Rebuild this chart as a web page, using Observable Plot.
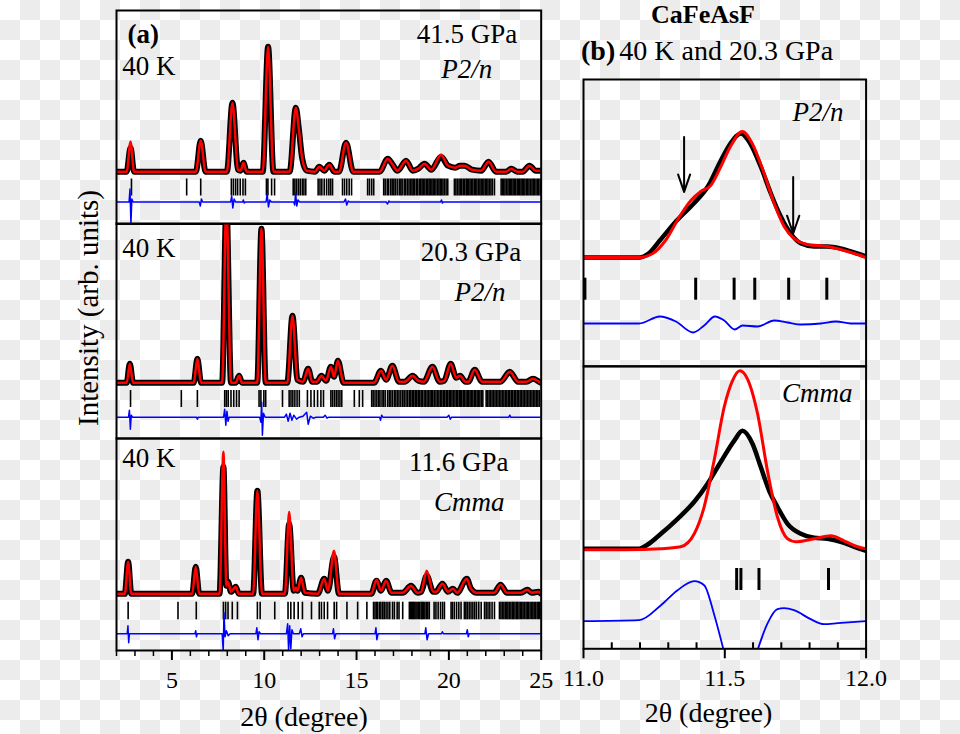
<!DOCTYPE html>
<html><head><meta charset="utf-8">
<script src="https://cdn.jsdelivr.net/npm/d3@7"></script>
<script src="https://cdn.jsdelivr.net/npm/@observablehq/plot@0.6"></script>
<style>
html,body{margin:0;padding:0;}
#root{position:relative;width:960px;height:734px;overflow:hidden;font-family:'Liberation Serif','Times New Roman',serif;color:#000;
background:conic-gradient(#ececec 0 25%,#fff 0 50%,#ececec 0 75%,#fff 0) 0 0/40px 40px;}
.lbl{position:absolute;white-space:nowrap;line-height:1;}
.p{position:absolute;}
</style></head><body><div id="root"></div>
<script>
const FONT = "'Liberation Serif','Times New Roman',serif";

// ---------- Panel (a): 2θ from 2 to 25 ----------
const aMajorTicks = [5, 10, 15, 20, 25];
const aMinorTicks = [2, 3, 4, 6, 7, 8, 9, 11, 12, 13, 14, 16, 17, 18, 19, 21, 22, 23, 24];

// 41.5 GPa, P2/n : observed profile [2θ, intensity]
const a1Obs = [[2.0,0],[2.55,0],[2.76,24],[2.95,0],[6.3,0],[6.56,31],[6.82,0],[7.98,0],[8.28,69],[8.58,2],[8.72,1],[8.87,9],[9.05,0],
  [9.92,0],[10.21,125],[10.5,0],[11.38,0],[11.71,64],[11.88,42],[12.05,14],[12.3,1],[12.75,0],[12.98,5],[13.25,1],[13.52,7],[13.8,0],
  [14.05,0],[14.43,29],[14.82,0],[16.25,0],[16.69,13],[16.92,8],[17.22,1],[17.68,11],[18.05,1],[18.35,3],[18.68,8],[19.05,2],[19.58,15],
  [19.95,6],[20.35,4],[20.6,6],[20.85,6],[21.25,2],[21.75,1],[22.15,10],[22.55,0],[23.1,0],[23.38,3],[23.7,0],[24.0,0],[24.37,6],[24.7,1],[25,1]];
const a1CalcPeaks = [[2.76,30],[19.58,17]];
const a1Diff = [[2,0],[2.68,0],[2.73,13],[2.78,-22],[2.83,3],[2.9,0],[6.48,0],[6.54,-4],[6.6,3],[6.66,0],[8.18,0],[8.24,6],[8.3,-6],[8.37,3],[8.45,0],
  [8.83,0],[8.87,2],[8.92,-1],[8.98,0],[10.1,0],[10.16,8],[10.23,-5],[10.3,2],[10.38,0],[11.6,0],[11.65,-3],[11.7,9],[11.76,-4],[11.83,2],[11.92,0],
  [14.32,0],[14.4,3],[14.47,-3],[14.55,1],[14.62,0],[16.6,0],[16.68,-2],[16.75,1],[16.8,0],[19.55,0],[19.6,2],[19.65,-1],[19.7,0],[25,0]];
const a1Bragg = [2.81,5.80,6.56,8.22,8.33,8.45,8.56,8.7,8.85,8.98,10.12,10.2,10.4,10.56,11.57,11.66,11.75,11.85,11.95,12.06,12.15,12.25,
  12.92,13.02,13.12,13.25,13.38,13.5,13.6,13.7,14.24,14.35,14.47,14.6,14.73,15.6,15.7,15.82,15.93,16.47,16.55,16.66,16.74,16.85,16.93,17.02,
  17.1,17.2,17.31,17.4,17.47,17.58,17.66,17.75,17.84,17.92,18.0,18.07,18.15,18.24,18.31,18.4,18.48,18.55,18.62,18.7,18.78,18.86,18.93,19.0,
  19.08,19.15,19.22,19.3,19.38,19.46,19.53,19.6,19.68,19.76,19.85,19.94,20.3,20.38,20.46,20.55,20.62,20.7,20.78,20.86,20.94,21.0,21.08,21.15,
  21.23,21.3,21.38,21.45,21.52,21.6,21.68,21.75,21.83,21.9,21.98,22.05,22.12,22.2,22.28,22.36,22.47,22.83,22.9,22.97,23.04,23.12,23.2,23.27,
  23.34,23.41,23.48,23.55,23.62,23.7,23.77,23.84,23.91,23.98,24.05,24.12,24.2,24.27,24.34,24.42,24.5,24.57,24.64,24.72,24.8,24.87,24.95];

// 20.3 GPa, P2/n
const a2Obs = [[2.0,0],[2.55,0],[2.72,19],[2.9,0],[6.18,0],[6.38,24],[6.58,0],[7.72,0],[7.95,180],[8.2,0],[8.45,0],[8.64,7],[8.8,0],
  [9.62,0],[9.85,154],[10.08,0],[11.25,0],[11.53,67],[11.8,3],[12.1,1],[12.38,14],[12.6,1],[12.85,1],[13.1,7],[13.35,2],[13.61,16],[13.78,6],
  [13.99,22],[14.3,0],[15.95,0],[16.32,12],[16.6,3],[16.94,17],[17.3,1],[17.6,1],[18.04,7],[18.35,2],[18.65,1],[19.11,16],[19.5,1],[19.75,2],
  [20.1,19],[20.4,5],[20.6,7],[20.9,1],[21.05,1],[21.4,13],[21.8,1],[22.8,1],[23.3,11],[23.75,1],[24.2,1],[24.55,4],[24.9,1],[25,0]];
const a2CalcPeaks = [];
const a2Diff = [[2,0],[2.65,0],[2.7,7],[2.75,-12],[2.8,2],[2.86,0],[6.33,0],[6.38,-2],[6.43,0],[7.8,0],[7.86,8],[7.92,-8],[7.98,6],[8.04,-4],[8.1,0],
  [9.75,0],[9.82,-5],[9.86,15],[9.9,-18],[9.96,4],[10.05,0],[11.1,0],[11.2,3],[11.3,-4],[11.4,4],[11.5,-3],[11.6,2],[11.75,-2],[11.9,0],[12.1,1],
  [12.3,5],[12.38,-7],[12.5,1],[12.65,-1],[12.8,0],[13.2,0],[13.3,2],[13.4,-1],[13.5,0],[16.25,0],[16.3,-3],[16.36,2],[16.42,0],[19.9,0],[20.0,2],
  [20.08,-2],[20.15,0],[23.25,0],[23.3,2],[23.35,0],[25,0]];
const a2Bragg = [2.76,5.51,6.38,7.86,7.95,8.05,8.2,8.35,8.5,8.64,9.72,9.82,9.98,10.08,10.99,11.35,11.45,11.55,11.66,11.78,11.9,12.34,12.53,12.71,
  12.89,13.07,13.21,13.61,13.7,13.8,13.9,14.0,14.1,14.2,14.88,15.15,15.33,15.82,15.9,16.0,16.1,16.2,16.27,16.38,16.46,16.55,16.68,16.77,16.86,
  16.95,17.05,17.13,17.22,17.3,17.4,17.5,17.58,17.68,17.77,17.86,17.94,18.02,18.1,18.18,18.26,18.34,18.42,18.5,18.57,18.66,18.74,18.82,18.9,
  18.98,19.05,19.13,19.21,19.3,19.38,19.46,19.54,19.62,19.7,19.78,19.86,19.94,20.02,20.1,20.17,20.25,20.33,20.41,20.48,20.56,20.63,20.7,20.78,
  20.85,20.93,21.0,21.08,21.15,21.23,21.3,21.38,21.45,21.53,21.6,21.68,21.76,21.84,22.02,22.1,22.18,22.26,22.34,22.42,22.5,22.58,22.66,22.74,
  22.82,22.9,22.98,23.06,23.14,23.22,23.3,23.38,23.46,23.54,23.62,23.7,23.78,23.86,23.94,24.02,24.1,24.18,24.26,24.34,24.42,24.5,24.58,24.66,
  24.74,24.82,24.9];

// 11.6 GPa, Cmma
const a3Obs = [[2.0,0],[2.45,0],[2.63,32],[2.8,0],[6.1,0],[6.29,27],[6.48,0],[7.58,0],[7.79,127],[7.95,8],[8.04,12],[8.2,2],[8.46,7],[8.62,0],
  [9.4,0],[9.63,103],[9.88,0],[11.12,0],[11.35,70],[11.6,3],[11.72,6],[11.8,3],[12.0,16],[12.2,1],[12.9,0],[13.25,15],[13.45,3],[13.78,37],
  [14.05,0],[15.8,0],[16.08,13],[16.32,3],[16.6,13],[16.9,1],[17.5,1],[17.95,8],[18.3,1],[18.5,2],[18.8,18],[19.15,2],[19.3,2],[19.65,10],
  [19.95,2],[20.22,5],[20.45,1],[20.97,15],[21.2,5],[21.5,1],[22.45,1],[22.8,9],[23.15,1],[23.9,1],[24.25,4],[24.5,1],[24.85,2],[25,0]];
const a3CalcPeaks = [[7.79,142],[11.35,82],[13.78,43],[18.8,23],[16.08,14]];
const a3Diff = [[2,0],[2.58,0],[2.62,8],[2.66,-9],[2.7,0],[6.25,0],[6.29,3],[6.33,-3],[6.37,0],[7.72,0],[7.78,-17],[7.82,21],[7.88,-3],[7.95,3],
  [8.05,-2],[8.15,0],[9.55,0],[9.6,6],[9.66,-6],[9.72,2],[9.8,0],[11.2,0],[11.27,10],[11.32,-17],[11.38,8],[11.44,-15],[11.5,4],[11.58,0],
  [11.9,0],[11.98,5],[12.05,-3],[12.12,0],[13.7,0],[13.75,5],[13.81,-5],[13.88,0],[16.0,0],[16.05,6],[16.1,-6],[16.16,0],[18.7,0],[18.75,6],
  [18.82,-6],[18.9,0],[19.6,0],[19.65,2],[19.7,0],[20.95,0],[21.0,4],[21.05,-3],[21.1,0],[25,0]];
const a3Bragg = [2.63,5.33,6.32,7.79,7.91,8.04,8.27,8.55,9.63,9.78,10.57,11.29,11.44,11.62,11.84,12.07,12.56,12.98,13.1,13.25,13.43,13.79,13.92,
  14.48,15.06,15.56,15.92,16.0,16.08,16.15,16.25,16.32,16.42,16.5,16.6,16.7,16.8,16.95,17.05,17.2,17.3,17.5,17.86,17.92,17.98,18.04,18.1,18.16,
  18.22,18.28,18.35,18.42,18.5,18.56,18.62,18.7,18.78,18.86,18.94,19.2,19.3,19.42,19.55,19.66,19.76,20.12,20.2,20.3,20.42,20.54,20.66,20.84,
  20.92,21.0,21.1,21.2,21.3,21.4,21.5,21.62,21.75,21.93,22.02,22.12,22.22,22.34,22.47,22.74,22.82,22.9,22.98,23.06,23.14,23.2,23.28,23.36,
  23.44,23.5,23.58,23.66,23.72,23.8,23.88,23.95,24.02,24.1,24.18,24.25,24.32,24.4,24.48,24.55,24.62,24.7,24.78,24.85,24.92,25.0];

// ---------- Panel (b): 2θ from 11.0 to 12.0 ----------
const bMajorTicks = [11.0, 11.5, 12.0];
const bMinorTicks = [11.1, 11.2, 11.3, 11.4, 11.6, 11.7, 11.8, 11.9];

const b1Obs = [[11.0,0],[11.1,0],[11.197,0],[11.23,4],[11.27,17],[11.33,37],[11.39,54],[11.44,71],[11.486,97],[11.52,114],[11.557,124],
  [11.59,114],[11.627,91],[11.663,64],[11.698,41],[11.733,24],[11.77,14],[11.816,11],[11.863,11],[11.91,9],[11.958,5],[12.0,1]];
const b1Calc = [[11.0,0],[11.1,0],[11.197,0],[11.245,4],[11.29,17],[11.34,41],[11.38,57],[11.415,66],[11.45,72],[11.486,91],[11.52,111],
  [11.562,126],[11.597,114],[11.639,84],[11.675,54],[11.71,31],[11.745,19],[11.792,13],[11.863,11],[11.91,8],[11.958,4],[12.0,0]];
const b1Diff = [[11.0,0],[11.197,0],[11.27,7],[11.327,2],[11.388,-9],[11.427,-2],[11.465,7],[11.498,3],[11.535,-6],[11.563,-2],[11.616,-3],
  [11.675,3],[11.722,1],[11.77,-1],[11.84,0],[11.893,2],[11.946,0],[12.0,0]];
const b1Bragg = [11.005, 11.397, 11.533, 11.606, 11.726, 11.861];
const b1Arrows = [[11.356, 120.6, 65.6], [11.742, 80.6, 24]];

const b2Obs = [[11.0,0],[11.1,0],[11.197,0],[11.226,4],[11.274,15],[11.333,30],[11.392,47],[11.439,65],[11.486,87],[11.533,108],[11.563,118],
  [11.598,105],[11.627,82],[11.657,58],[11.686,42],[11.722,25],[11.769,15],[11.816,11],[11.863,10],[11.91,7],[11.958,2],[12.0,-2]];
const b2Calc = [[11.0,-1],[11.15,-1],[11.274,0],[11.344,2],[11.392,15],[11.427,42],[11.462,88],[11.498,142],[11.527,168],[11.553,178],
  [11.58,170],[11.616,135],[11.651,78],[11.686,32],[11.722,10],[11.75,7],[11.816,10],[11.875,13],[11.922,8],[11.97,2],[12.0,0]];
const b2Diff = [[11.0,0],[11.197,1],[11.274,16],[11.333,31],[11.392,40],[11.427,36],[11.462,7],[11.495,-28],[11.55,-95],[11.617,-28],
  [11.65,-3],[11.686,12],[11.71,13],[11.745,11],[11.804,2],[11.851,-3],[11.9,-2],[12.0,0]];
const b2Bragg = [11.542, 11.557, 11.621, 11.867];

// ---------- build ----------
const calcFrom = (obs, peaks) => { const m = new Map(peaks); return obs.map(([x, y]) => [x, m.has(x) ? m.get(x) : y]); };

const aStyle = {obsW: 6, calcW: 2.5, diffW: 1.5, braggW: 1.6, diffCurve: "linear", xDomain: [2, 25], left: 116, w: 424.7};
const bStyle = {obsW: 4.5, calcW: 3, diffW: 1.8, braggW: 3, diffCurve: "monotone-x", xDomain: [11, 12], left: 582.7, w: 282.6};

const panels = [
  {...aStyle, top: 9.5, h: 213.5, yDomain: [-52.3, 161.2], obs: a1Obs, calc: calcFrom(a1Obs, a1CalcPeaks), diff: a1Diff, bragg: a1Bragg,
   tick: [-7.3, -24.3], diffOff: -30.3,
   texts: [["(a)", "top-left", 11, 24, "bold"], ["40 K", "top-left", 5.7, 55.5], ["41.5 GPa", "top-right", -24, 23.5], ["P2/n", "top-right", -49, 58.5, "italic"]]},
  {...aStyle, top: 223, h: 215, yDomain: [-55.7, 159.3], obs: a2Obs, calc: calcFrom(a2Obs, a2CalcPeaks), diff: a2Diff, bragg: a2Bragg,
   tick: [-7.7, -24.7], diffOff: -34.4,
   texts: [["40 K", "top-left", 5.7, 25.3], ["20.3 GPa", "top-right", -20, 28.7], ["P2/n", "top-right", -35.7, 68.7, "italic"]]},
  {...aStyle, top: 438, h: 212, yDomain: [-56.7, 155.3], obs: a3Obs, calc: calcFrom(a3Obs, a3CalcPeaks), diff: a3Diff, bragg: a3Bragg,
   tick: [-8.4, -26], diffOff: -40, axis: "a",
   texts: [["40 K", "top-left", 5.7, 20.3], ["11.6 GPa", "top-right", -32.7, 23.7], ["Cmma", "top-right", -36.7, 63.7, "italic"]]},
  {...bStyle, top: 79.3, h: 286.7, yDomain: [-108.7, 178], obs: b1Obs, calc: b1Calc, diff: b1Diff, bragg: b1Bragg,
   tick: [-20.7, -42.7], diffOff: -66, arrows: b1Arrows,
   texts: [["P2/n", "top-right", -22.6, 32.4, "italic"]]},
  {...bStyle, top: 366, h: 282.3, yDomain: [-100, 182.3], obs: b2Obs, calc: b2Calc, diff: b2Diff, bragg: b2Bragg,
   tick: [-19.7, -41.7], diffOff: -72.4, axis: "b",
   texts: [["Cmma", "top-right", -13.6, 27.3, "italic"]]}
];

const root = document.getElementById("root");
const M = 4;

for (const p of panels) {
  const mb = p.axis ? 40 : M;
  const marks = [
    Plot.line(p.obs, {x: d => d[0], y: d => d[1], stroke: "#000", strokeWidth: p.obsW, curve: "monotone-x", clip: true}),
    Plot.line(p.calc, {x: d => d[0], y: d => d[1], stroke: "#ff0000", strokeWidth: p.calcW, curve: "monotone-x", clip: true}),
    Plot.ruleX(p.bragg, {x: d => d, y1: () => p.tick[0], y2: () => p.tick[1], stroke: "#000", strokeWidth: p.braggW}),
    Plot.line(p.diff, {x: d => d[0], y: d => d[1] + p.diffOff, stroke: "#0000ff", strokeWidth: p.diffW, curve: p.diffCurve, clip: true})
  ];
  if (p.arrows) {
    marks.push(Plot.arrow(p.arrows, {x1: d => d[0], x2: d => d[0], y1: d => d[1], y2: d => d[2], stroke: "#000", strokeWidth: 2, headLength: 22, headAngle: 38}));
  }
  for (const [t, anchor, dx, dy, st] of p.texts) {
    marks.push(Plot.text([t], {text: d => d, frameAnchor: anchor, dx, dy, textAnchor: anchor.endsWith("left") ? "start" : "end",
      lineAnchor: "middle", fontSize: 27, fontFamily: FONT, fill: "#000",
      fontWeight: st === "bold" ? "bold" : "normal", fontStyle: st === "italic" ? "italic" : "normal"}));
  }
  if (p.axis === "a") {
    marks.push(Plot.axisX(aMinorTicks, {tickSize: 6, strokeWidth: 1.5, tickFormat: () => "", label: null}));
    marks.push(Plot.axisX(aMajorTicks, {tickSize: 10, tickPadding: 10, strokeWidth: 2, fontSize: 24, fontFamily: FONT, tickFormat: d => String(d), label: null}));
  }
  if (p.axis === "b") {
    const yb = p.yDomain[0];
    marks.push(Plot.ruleX(bMinorTicks, {x: d => d, y1: () => yb, y2: () => yb + 6, stroke: "#000", strokeWidth: 2}));
    marks.push(Plot.axisX(bMajorTicks, {tickSize: 10, tickPadding: 10, strokeWidth: 2, fontSize: 24, fontFamily: FONT, tickFormat: d => d.toFixed(1), label: null}));
  }
  marks.push(Plot.frame({stroke: "#000", strokeWidth: 2}));

  const svg = Plot.plot({
    width: p.w + 2 * M, height: p.h + M + mb,
    marginLeft: M, marginRight: M, marginTop: M, marginBottom: mb,
    x: {domain: p.xDomain, axis: p.axis ? undefined : null},
    y: {domain: p.yDomain, axis: null},
    style: {background: "transparent", overflow: "visible", fontFamily: FONT},
    marks
  });
  const div = document.createElement("div");
  div.className = "p";
  div.style.left = (p.left - M) + "px";
  div.style.top = (p.top - M) + "px";
  div.appendChild(svg);
  root.appendChild(div);
}

// ---------- outer titles ----------
function label(html, css) {
  const d = document.createElement("div");
  d.className = "lbl";
  d.innerHTML = html;
  Object.assign(d.style, css);
  root.appendChild(d);
}
label("CaFeAsF", {left: "703px", top: "2px", transform: "translateX(-50%)", fontSize: "26px", lineHeight: "26px", fontWeight: "bold"});
label("<b>(b)</b><span style='margin-left:4px'>40 K and 20.3 GPa</span>", {left: "581px", top: "37px", fontSize: "28px"});
label("Intensity (arb. units)", {left: "88px", top: "308px", transform: "translate(-50%,-50%) rotate(-90deg)", fontSize: "29px"});
label("2θ (degree)", {left: "304px", top: "717px", transform: "translate(-50%,-50%)", fontSize: "28px"});
label("2θ (degree)", {left: "708.5px", top: "713.3px", transform: "translate(-50%,-50%)", fontSize: "28px"});
</script></body></html>
